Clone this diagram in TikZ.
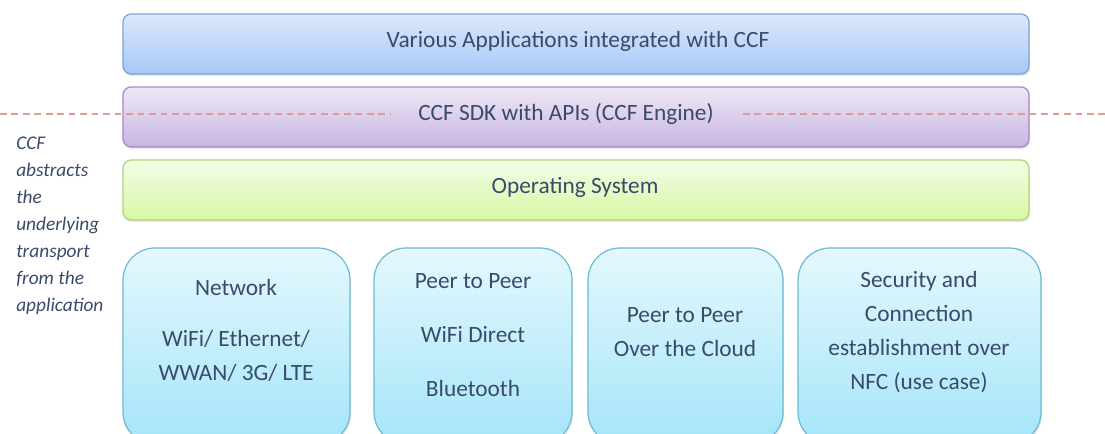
\documentclass[tikz,border=0pt]{standalone}
\usepackage{fontspec}
\setmainfont{Carlito}
\usetikzlibrary{fit,shadows}
\definecolor{txt}{HTML}{3A4A6C}
\definecolor{appsTop}{HTML}{DCE9FD}\definecolor{appsBot}{HTML}{A7C7F4}\definecolor{appsLine}{HTML}{7AA3DA}
\definecolor{sdkTop}{HTML}{EEE8F6}\definecolor{sdkBot}{HTML}{C8B4E2}\definecolor{sdkLine}{HTML}{A089C4}
\definecolor{osTop}{HTML}{F4FDE6}\definecolor{osBot}{HTML}{D7F8A4}\definecolor{osLine}{HTML}{B1D27A}
\definecolor{trTop}{HTML}{E4F8FD}\definecolor{trBot}{HTML}{A5E5F9}\definecolor{trLine}{HTML}{6CB9D2}
\definecolor{divider}{HTML}{E39A93}
\tikzset{
  layer/.style={draw=#1Line, line width=0.9pt, rounded corners=6pt,
    top color=#1Top, bottom color=#1Bot, inner sep=0pt,
    drop shadow={opacity=0.18, shadow xshift=0.8pt, shadow yshift=-1.6pt}},
  transport/.style={layer=tr, rounded corners=24pt},
  label/.style={text=txt, align=center, font=\fontsize{17.5}{25.5}\selectfont, inner sep=0pt},
  note/.style={text=txt, align=left, anchor=north west, inner sep=0pt,
    font=\itshape\fontsize{14.5}{20.25}\selectfont},
  divline/.style={draw=divider, line width=1.7pt, dash pattern=on 5pt off 3.6pt}
}
\begin{document}
\begin{tikzpicture}[x=0.75pt, y=-0.75pt]
  \useasboundingbox (0,0) rectangle (1105,434);
  \clip (0,0) rectangle (1105,434);

  % stacked software layers
  \node[layer=apps, fit={(123,14) (1029,74)}] (apps) {};
  \node[layer=sdk,  fit={(123,87) (1029,147)}] (sdk) {};
  \node[layer=os,   fit={(123,160) (1029,220)}] (os) {};
  \node[label] (apps-t) at (578,41) {Various Applications integrated with CCF};
  \node[label] (sdk-t) at (566,114) {CCF SDK with APIs (CCF Engine)};
  \node[label] (os-t) at (575,187) {Operating System};

  % transport boxes (running past the lower edge)
  \node[transport, fit={(123,248) (350,444)}] (net) {};
  \node[transport, fit={(374,248) (572,444)}] (p2p) {};
  \node[transport, fit={(588,248) (783,444)}] (cloud) {};
  \node[transport, fit={(798,248) (1041,444)}] (nfc) {};

  \node[label] (net-a) at (236,287) {Network};
  \node[label] (net-b) at (236,356) {WiFi/ Ethernet/\\WWAN/ 3G/ LTE};
  \node[label] (p2p-t) at (473,335) {Peer to Peer\\[15pt]WiFi Direct\\[15pt]Bluetooth};
  \node[label] (cloud-t) at (685,332) {Peer to Peer\\Over the Cloud};
  \node[label] (nfc-t) at (919,332) {Security and\\Connection\\establishment over\\NFC (use case)};

  % abstraction boundary through the SDK layer
  \coordinate (div-l) at (0,114);
  \coordinate (div-lm) at (390,114);
  \coordinate (div-rm) at (743,114);
  \coordinate (div-r) at (1105,114);
  \draw[divline] (div-l) -- (div-lm);
  \draw[divline] (div-rm) -- (div-r);

  \node[note] (abstract) at (16,137) {CCF\\abstracts\\the\\underlying\\transport\\from the\\application};
\end{tikzpicture}
\end{document}
